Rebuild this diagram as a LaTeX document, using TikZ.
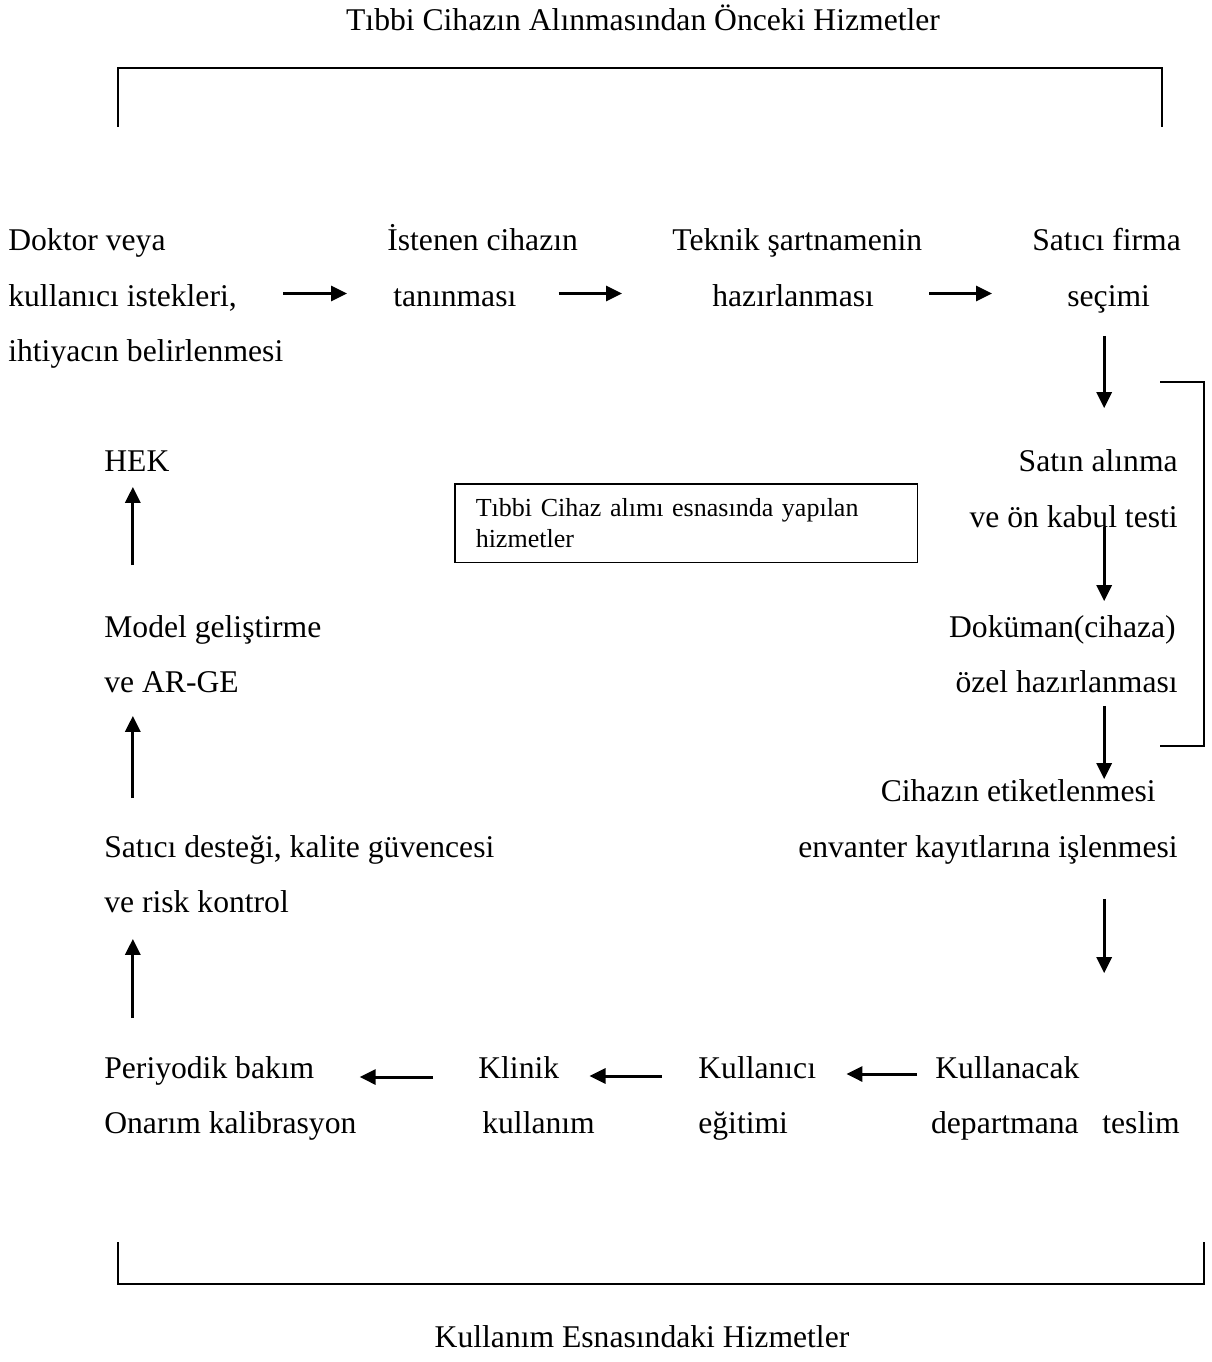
\documentclass[tikz,border=0pt]{standalone}
\usepackage{fontspec}
\setmainfont{Liberation Serif}
\usetikzlibrary{arrows.meta}

\begin{document}
\begin{tikzpicture}[x=0.02cm, y=-0.02cm,
  lbl/.style={inner sep=0pt, font=\fontsize{18}{22}\selectfont,
              text height=12.6pt, text depth=4.5pt, yshift=-0.07cm},
  lw/.style={lbl, anchor=west},
  le/.style={lbl, anchor=east},
  arr/.style={-{Triangle[length=0.32cm,width=0.3cm]}, line width=0.06cm},
  brk/.style={line width=0.03cm},
  infobox/.style={draw, line width=0.03cm, anchor=north west,
                  minimum width=9.26cm, minimum height=1.58cm,
                  inner xsep=0.42cm, inner ysep=0pt, text width=8.42cm,
                  align=left, font=\fontsize{14.8}{17.5}\selectfont}]
\useasboundingbox (0,0) rectangle (1211,1362);

% section titles
\node[lbl] (top) at (643,20) {Tıbbi Cihazın Alınmasından Önceki Hizmetler};
\node[lbl] (bottom) at (642,1337) {Kullanım Esnasındaki Hizmetler};

% brackets
\draw[brk] (118,127) -- (118,68) -- (1162,68) -- (1162,127);
\draw[brk] (1160,382) -- (1204,382) -- (1204,746) -- (1160,746);
\draw[brk] (118,1242) -- (118,1284) -- (1204,1284) -- (1204,1242);

% first row
\node[lw] (d1) at (8,240) {Doktor veya};
\node[lw] (d2) at (8,296) {kullanıcı istekleri,};
\node[lw] (d3) at (8,351) {ihtiyacın belirlenmesi};
\node[lw] (i1) at (387,240) {İstenen cihazın};
\node[lw] (i2) at (393,296) {tanınması};
\node[lw] (t1) at (672,240) {Teknik şartnamenin};
\node[lw] (t2) at (712,296) {hazırlanması};
\node[lw] (s1) at (1032,240) {Satıcı firma};
\node[lw] (s2) at (1067,296) {seçimi};

% right column
\node[le] (sa1) at (1178,461) {Satın alınma};
\node[le] (sa2) at (1178,517) {ve ön kabul testi};
\node[le] (do1) at (1176,627) {Doküman(cihaza)};
\node[le] (do2) at (1178,682) {özel hazırlanması};
\node[le] (ci1) at (1156,791) {Cihazın etiketlenmesi};
\node[le] (ci2) at (1178,847) {envanter kayıtlarına işlenmesi};

% bottom row
\node[lw] (ku1) at (935,1068) {Kullanacak};
\node[le] (ku2) at (1180,1123) {departmana\ \ \ teslim};
\node[lw] (ke1) at (698,1068) {Kullanıcı};
\node[lw] (ke2) at (698,1123) {eğitimi};
\node[lw] (kl1) at (478,1068) {Klinik};
\node[lw] (kl2) at (482,1123) {kullanım};
\node[lw] (pe1) at (104,1068) {Periyodik bakım};
\node[lw] (pe2) at (104,1123) {Onarım kalibrasyon};

% left column
\node[lw] (sd1) at (104,847) {Satıcı desteği, kalite güvencesi};
\node[lw] (sd2) at (104,902) {ve risk kontrol};
\node[lw] (mo1) at (104,627) {Model geliştirme};
\node[lw] (mo2) at (104,682) {ve AR-GE};
\node[lw] (hek) at (104,461) {HEK};

% framed note
\node[infobox] (box) at (454,483) {Tıbbi Cihaz alımı esnasında yapılan\\hizmetler};

% arrows along the first row
\draw[arr, shorten <=0.92cm, shorten >=0.92cm] ([yshift=0.12cm]d2.east) -- ([yshift=0.12cm]i2.west);
\draw[arr, shorten <=0.84cm, shorten >=1.8cm] ([yshift=0.12cm]i2.east) -- ([yshift=0.12cm]t2.west);
\draw[arr, shorten <=1.1cm, shorten >=1.5cm] ([yshift=0.12cm]t2.east) -- ([yshift=0.12cm]s2.west);

% arrows down the right column
\draw[arr, shorten <=0.42cm, shorten >=0.82cm] ([xshift=0.12cm]s2.south -| sa1) -- ([xshift=0.12cm]sa1.north);
\draw[arr, shorten <=0.12cm, shorten >=0.28cm] ([xshift=0.12cm]sa2 -| sa1) -- ([xshift=0.12cm]do1.north -| sa1);
\draw[arr, shorten <=0.1cm] ([xshift=0.12cm]do2.south -| sa1) -- ([xshift=0.12cm]ci1.north -| sa1);
\draw[arr, shorten <=0.66cm, shorten >=1.66cm] ([xshift=0.12cm]ci2.south -| sa1) -- ([xshift=0.12cm]ku1.north -| sa1);

% arrows along the bottom row
\draw[arr, shorten <=0.36cm, shorten >=0.6cm] ([yshift=-0.05cm]ku1.west) -- ([yshift=-0.05cm]ke1.east);
\draw[arr, shorten <=0.72cm, shorten >=0.6cm] ([yshift=-0.09cm]ke1.west) -- ([yshift=-0.09cm]kl1.east);
\draw[arr, shorten <=0.9cm, shorten >=0.9cm] ([yshift=-0.11cm]kl1.west) -- ([yshift=-0.11cm]pe1.east);

% arrows up the left column
\draw[arr, shorten <=0.76cm, shorten >=0.36cm] ([xshift=-0.08cm]pe1.north -| hek) -- ([xshift=-0.08cm]sd2.south -| hek);
\draw[arr, shorten <=0.74cm, shorten >=0.3cm] ([xshift=-0.08cm]sd1.north -| hek) -- ([xshift=-0.08cm]mo2.south -| hek);
\draw[arr, shorten <=1.0cm, shorten >=0.14cm] ([xshift=-0.08cm]mo1.north -| hek) -- ([xshift=-0.08cm]hek.south);
\end{tikzpicture}
\end{document}
